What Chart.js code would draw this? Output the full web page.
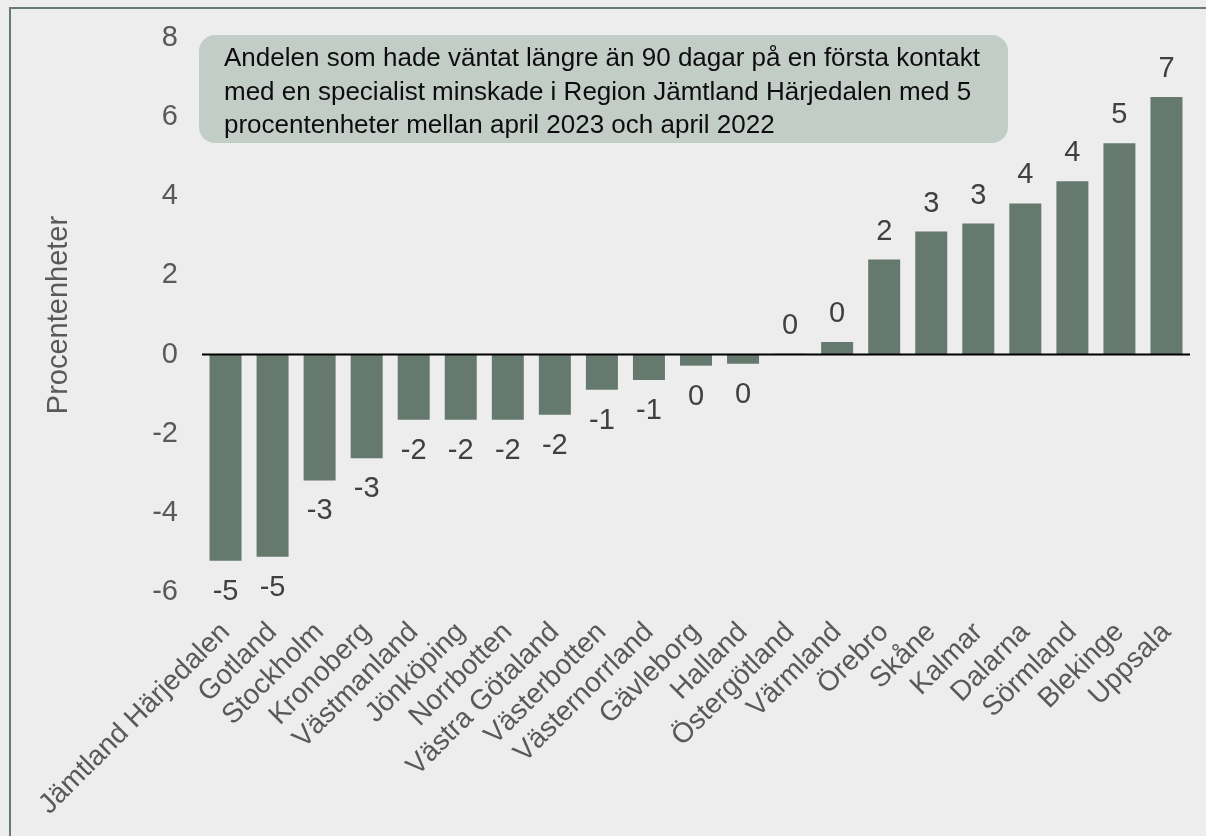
<!DOCTYPE html>
<html lang="sv">
<head>
<meta charset="utf-8">
<script src="https://cdn.jsdelivr.net/npm/chart.js"></script>
<style>
  html, body { margin: 0; padding: 0; background: #ededed; overflow: hidden; }
  #frame {
    position: absolute; left: 9px; top: 7px; width: 1300px; height: 900px;
    border-left: 2px solid #667b72; border-top: 2px solid #667b72;
  }
  #wrap { position: absolute; left: 0; top: 0; width: 1206px; height: 836px; }
  #note {
    position: absolute; left: 199px; top: 35px; width: 809px; height: 108px;
    box-sizing: border-box; padding: 6px 0 0 25px;
    background: #c3cdc7; border-radius: 16px;
    font-family: 'Liberation Sans', Arial, sans-serif; font-size: 26px;
    line-height: 33.5px; color: #0d0d0d; white-space: nowrap;
  }
</style>
</head>
<body>
<div id="frame"></div>
<div id="wrap"><canvas id="chart" width="1206" height="836"></canvas></div>
<div id="note">Andelen som hade väntat längre än 90 dagar på en första kontakt<br>med en specialist minskade i Region Jämtland Härjedalen med 5<br>procentenheter mellan april 2023 och april 2022</div>
<script>
const THEME = {
  bar: '#65796f',
  tick: '#595959',
  label: '#404040',
  zero: '#000000'
};
const FONT = "'Liberation Sans', Arial, sans-serif";

// regions, sorted by change (percentage points)
const regions = [
  'Jämtland Härjedalen', 'Gotland', 'Stockholm', 'Kronoberg', 'Västmanland',
  'Jönköping', 'Norrbotten', 'Västra Götaland', 'Västerbotten', 'Västernorrland',
  'Gävleborg', 'Halland', 'Östergötland', 'Värmland', 'Örebro', 'Skåne',
  'Kalmar', 'Dalarna', 'Sörmland', 'Blekinge', 'Uppsala'
];
const changes = [
  -5.21, -5.11, -3.18, -2.62, -1.65,
  -1.65, -1.65, -1.52, -0.89, -0.64,
  -0.28, -0.23, 0.02, 0.32, 2.40, 3.11,
  3.31, 3.82, 4.38, 5.34, 6.51
];
const yTicks = [-6, -4, -2, 0, 2, 4, 6, 8];

function roundLabel(v) {
  const r = Math.sign(v) * Math.round(Math.abs(v));
  return String(r === 0 ? 0 : r);
}

// zero line + value labels
const overlay = {
  id: 'overlay',
  afterDatasetsDraw(chart) {
    const { ctx, chartArea } = chart;
    const y = chart.scales.y;
    const y0 = y.getPixelForValue(0);
    ctx.save();
    ctx.strokeStyle = THEME.zero;
    ctx.lineWidth = 2;
    ctx.beginPath();
    ctx.moveTo(chartArea.left, y0);
    ctx.lineTo(chartArea.right, y0);
    ctx.stroke();

    ctx.font = '29px ' + FONT;
    ctx.fillStyle = THEME.label;
    ctx.textAlign = 'center';
    ctx.textBaseline = 'alphabetic';
    const meta = chart.getDatasetMeta(0);
    meta.data.forEach((bar, i) => {
      const v = changes[i];
      const ty = v >= 0 ? bar.y - 20 : bar.y + 39;
      ctx.fillText(roundLabel(v), bar.x, ty);
    });
    ctx.restore();
  }
};

new Chart(document.getElementById('chart').getContext('2d'), {
  type: 'bar',
  data: {
    labels: regions,
    datasets: [{
      data: changes,
      backgroundColor: THEME.bar,
      borderWidth: 0,
      barPercentage: 0.68,
      categoryPercentage: 1.0
    }]
  },
  options: {
    responsive: false,
    animation: false,
    devicePixelRatio: 1,
    layout: { padding: { left: 42, right: 16, top: 38, bottom: 0 } },
    plugins: {
      legend: { display: false },
      tooltip: { enabled: false }
    },
    scales: {
      x: {
        grid: { display: false, drawTicks: false },
        border: { display: false },
        ticks: {
          color: THEME.tick,
          font: { family: FONT, size: 28 },
          maxRotation: 45,
          minRotation: 45,
          autoSkip: false,
          padding: 24
        },
        afterFit(scale) {
          scale.height = 244;
          scale.paddingLeft = 0;
          scale.paddingRight = 0;
        }
      },
      y: {
        min: -6,
        max: 8,
        afterBuildTicks(scale) { scale.ticks = yTicks.map(v => ({ value: v })); },
        grid: { display: false, drawTicks: false },
        border: { display: false },
        ticks: {
          color: THEME.tick,
          font: { family: FONT, size: 29 },
          padding: 24
        },
        title: {
          display: true,
          text: 'Procentenheter',
          color: THEME.tick,
          font: { family: FONT, size: 29 },
          padding: 0
        },
        afterFit(scale) {
          scale.width = 160;
          scale.paddingTop = 0;
          scale.paddingBottom = 0;
        }
      }
    }
  },
  plugins: [overlay]
});
</script>
</body>
</html>
